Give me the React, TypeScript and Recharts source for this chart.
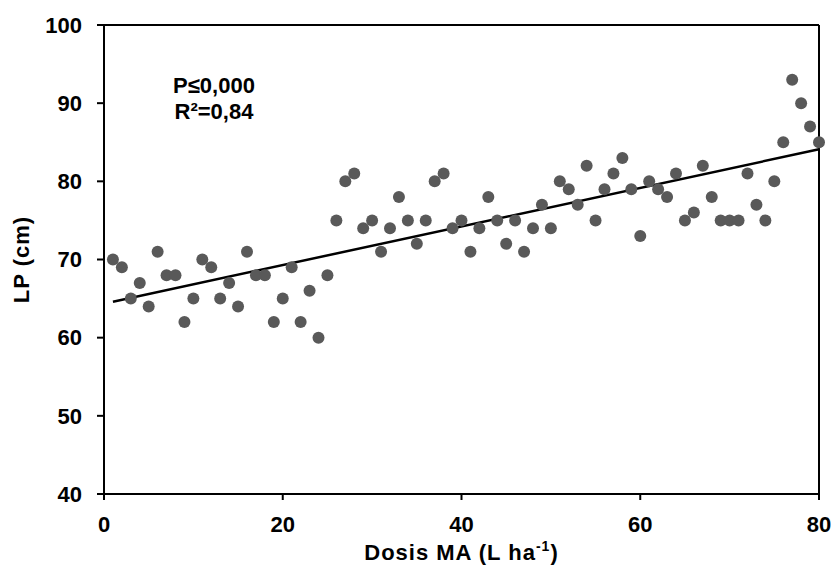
import React from 'react';
import { ScatterChart, Scatter, XAxis, YAxis, ReferenceLine, Label } from 'recharts';

const doses = [
  1, 2, 3, 4, 5, 6, 7, 8, 9, 10,
  11, 12, 13, 14, 15, 16, 17, 18, 19, 20,
  21, 22, 23, 24, 25, 26, 27, 28, 29, 30,
  31, 32, 33, 34, 35, 36, 37, 38, 39, 40,
  41, 42, 43, 44, 45, 46, 47, 48, 49, 50,
  51, 52, 53, 54, 55, 56, 57, 58, 59, 60,
  61, 62, 63, 64, 65, 66, 67, 68, 69, 70,
  71, 72, 73, 74, 75, 76, 77, 78, 79, 80,
];

const lpValues = [
  70, 69, 65, 67, 64, 71, 68, 68, 62, 65,
  70, 69, 65, 67, 64, 71, 68, 68, 62, 65,
  69, 62, 66, 60, 68, 75, 80, 81, 74, 75,
  71, 74, 78, 75, 72, 75, 80, 81, 74, 75,
  71, 74, 78, 75, 72, 75, 71, 74, 77, 74,
  80, 79, 77, 82, 75, 79, 81, 83, 79, 73,
  80, 79, 78, 81, 75, 76, 82, 78, 75, 75,
  75, 81, 77, 75, 80, 85, 93, 90, 87, 85,
];

// fitted line
const trendX = [1, 80];
const trendY = [64.6, 84.1];

const xTicks = [0, 20, 40, 60, 80];
const yTicks = [40, 50, 60, 70, 80, 90, 100];

const xTitle = 'Dosis MA (L ha';
const xTitleSup = '-1';
const yTitle = 'LP (cm)';
const pText = 'P≤0,000';
const r2Text = 'R²=0,84';

const points = doses.map((d, i) => ({ x: d, y: lpValues[i] }));
const trendSegment = trendX.map((x, i) => ({ x, y: trendY[i] }));

const FONT = '"Liberation Sans", Arial, sans-serif';

const tickStyle = { fill: '#000', fontSize: 22, fontWeight: 700, fontFamily: FONT };

const XTitle = (props: any) => {
  const vb = props.viewBox || { x: 104, y: 494, width: 715, height: 78 };
  const cx = vb.x + vb.width / 2;
  return (
    <text
      x={cx}
      y={vb.y + 66}
      textAnchor="middle"
      fill="#000"
      fontSize={22}
      fontWeight={700}
      fontFamily={FONT}
      letterSpacing={1}
    >
      <tspan>{xTitle}</tspan>
      <tspan dy={-9} fontSize={14}>{xTitleSup}</tspan>
      <tspan dy={9}>)</tspan>
    </text>
  );
};

const YTitle = (props: any) => {
  const vb = props.viewBox || { x: 0, y: 25, width: 104, height: 469 };
  const bx = 29;
  const cy = vb.y + vb.height / 2;
  return (
    <g>
      <text
        x={bx}
        y={cy}
        transform={`rotate(-90, ${bx}, ${cy})`}
        textAnchor="middle"
        fill="#000"
        fontSize={22}
        fontWeight={700}
        fontFamily={FONT}
        letterSpacing={1}
      >
        {yTitle}
      </text>
      <text
        x={vb.x + vb.width + 110}
        y={vb.y + 68}
        textAnchor="middle"
        fill="#000"
        fontSize={22}
        fontWeight={700}
        fontFamily={FONT}
      >
        {pText}
      </text>
      <text
        x={vb.x + vb.width + 110}
        y={vb.y + 94}
        textAnchor="middle"
        fill="#000"
        fontSize={22}
        fontWeight={700}
        fontFamily={FONT}
      >
        {r2Text}
      </text>
    </g>
  );
};

const Dot = (p: any) => <circle cx={p.cx} cy={p.cy} r={6} fill="#595959" />;

export default function App() {
  return (
    <div style={{ position: 'absolute', left: 0, top: 0, width: 834, height: 572, overflow: 'hidden', background: '#fff' }}>
      <ScatterChart width={834} height={572} margin={{ top: 25, right: 15, left: 0, bottom: 0 }}>
        <XAxis
          type="number"
          dataKey="x"
          domain={[0, 80]}
          ticks={xTicks}
          interval={0}
          height={78}
          tickSize={6}
          tickMargin={16}
          axisLine={{ stroke: '#000', strokeWidth: 2 }}
          tickLine={{ stroke: '#000', strokeWidth: 2 }}
          tick={tickStyle}
        >
          <Label content={XTitle} />
        </XAxis>
        <YAxis
          type="number"
          dataKey="y"
          domain={[40, 100]}
          ticks={yTicks}
          interval={0}
          width={104}
          tickSize={7}
          tickMargin={15}
          axisLine={{ stroke: '#000', strokeWidth: 2 }}
          tickLine={{ stroke: '#000', strokeWidth: 2 }}
          tick={tickStyle}
        >
          <Label content={YTitle} />
        </YAxis>
        <ReferenceLine y={100} stroke="#000" strokeWidth={2} ifOverflow="visible" />
        <ReferenceLine x={80} stroke="#000" strokeWidth={2} ifOverflow="visible" />
        <Scatter data={points} shape={Dot} isAnimationActive={false} />
        <ReferenceLine
          segment={trendSegment}
          stroke="#000"
          strokeWidth={2.5}
          ifOverflow="visible"
        />
      </ScatterChart>
    </div>
  );
}
